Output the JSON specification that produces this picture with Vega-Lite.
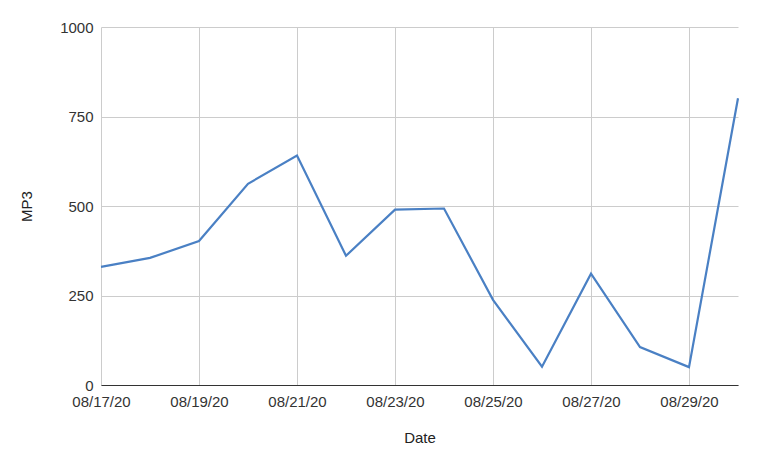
{
  "$schema": "https://vega.github.io/schema/vega-lite/v6.json",
  "width": 637,
  "height": 358,
  "autosize": {"type": "none"},
  "padding": {"left": 101, "top": 27, "right": 22, "bottom": 76},
  "background": "white",
  "config": {
    "font": "Liberation Sans",
    "view": {"stroke": null},
    "axis": {"labelFont": "Liberation Sans", "titleFont": "Liberation Sans"}
  },
  "data": {
    "values": [
      {"date": "2020-08-17", "MP3": 330},
      {"date": "2020-08-18", "MP3": 355},
      {"date": "2020-08-19", "MP3": 402},
      {"date": "2020-08-20", "MP3": 562},
      {"date": "2020-08-21", "MP3": 641},
      {"date": "2020-08-22", "MP3": 361},
      {"date": "2020-08-23", "MP3": 490},
      {"date": "2020-08-24", "MP3": 493},
      {"date": "2020-08-25", "MP3": 238},
      {"date": "2020-08-26", "MP3": 51},
      {"date": "2020-08-27", "MP3": 311},
      {"date": "2020-08-28", "MP3": 106},
      {"date": "2020-08-29", "MP3": 50},
      {"date": "2020-08-30", "MP3": 801}
    ]
  },
  "mark": {"type": "line", "color": "#4a80c4", "strokeWidth": 2.2, "clip": false},
  "encoding": {
    "x": {
      "field": "date",
      "type": "temporal",
      "title": "Date",
      "scale": {"type": "utc", "domain": [{"year": 2020, "month": 8, "date": 17, "utc": true}, {"year": 2020, "month": 8, "date": 30, "utc": true}]},
      "axis": {
        "format": "%m/%d/%y",
        "tickCount": {"interval": "day", "step": 2},
        "grid": true,
        "gridColor": "#cccccc",
        "gridWidth": 1,
        "domain": true,
        "domainColor": "#333333",
        "domainWidth": 1,
        "ticks": false,
        "labelPadding": 9,
        "labelFontSize": 15,
        "labelColor": "#333333",
        "labelFlush": false,
        "labelOverlap": false,
        "titleFontSize": 15,
        "titleFontWeight": "normal",
        "titleColor": "#222222",
        "titlePadding": 21
      }
    },
    "y": {
      "field": "MP3",
      "type": "quantitative",
      "title": "MP3",
      "scale": {"domain": [0, 1000], "nice": false},
      "axis": {
        "values": [0, 250, 500, 750, 1000],
        "format": "d",
        "grid": true,
        "gridColor": "#cccccc",
        "gridWidth": 1,
        "domain": false,
        "ticks": false,
        "labelPadding": 8,
        "labelFontSize": 15,
        "labelColor": "#333333",
        "titleFontSize": 15,
        "titleFontWeight": "normal",
        "titleColor": "#222222",
        "titlePadding": 25
      }
    }
  }
}
